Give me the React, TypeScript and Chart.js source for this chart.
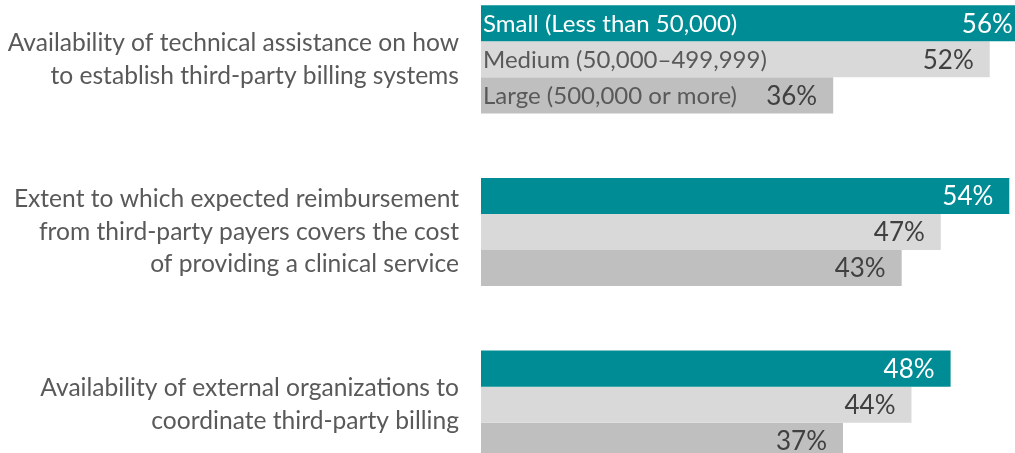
import React, { useEffect, useRef } from "react";
import { Chart, registerables } from "chart.js";

Chart.register(...registerables);

const categories: string[][] = [
  ["Availability of technical assistance on how", "to establish third-party billing systems"],
  ["Extent to which expected reimbursement", "from third-party payers covers the cost", "of providing a clinical service"],
  ["Availability of external organizations to", "coordinate third-party billing"],
];
const seriesNames = ["Small (Less than 50,000)", "Medium (50,000–499,999)", "Large (500,000 or more)"];
const smallValues = [56, 54, 48];
const mediumValues = [52, 47, 44];
const largeValues = [36, 43, 37];

const seriesColors = ["#008C95", "#D9D9D9", "#BFBFBF"];
const valueTextColors = ["#FFFFFF", "#404040", "#404040"];
const nameTextColors = ["#FFFFFF", "#595959", "#595959"];
const FONT = "Lato, 'Open Sans', sans-serif";

const labelPlugin = {
  id: "barLabels",
  afterDatasetsDraw(chart: any) {
    const ctx = chart.ctx;
    ctx.save();
    chart.data.datasets.forEach((ds: any, di: number) => {
      const meta = chart.getDatasetMeta(di);
      meta.data.forEach((bar: any, i: number) => {
        const v = ds.data[i];
        ctx.font = `26px ${FONT}`;
        ctx.fillStyle = valueTextColors[di];
        ctx.textAlign = "right";
        ctx.textBaseline = "middle";
        ctx.fillText(`${v}%`, bar.x - 16, bar.y + 1);
        if (i === 0) {
          ctx.font = `24px ${FONT}`;
          ctx.fillStyle = nameTextColors[di];
          ctx.textAlign = "left";
          ctx.fillText(ds.label, chart.chartArea.left + 2, bar.y + 1);
        }
      });
    });
    ctx.restore();
  },
};

export default function App() {
  const ref = useRef<HTMLCanvasElement>(null);
  useEffect(() => {
    if (!ref.current) return;
    const values = [smallValues, mediumValues, largeValues];
    const chart = new Chart(ref.current, {
      type: "bar",
      data: {
        labels: categories,
        datasets: seriesNames.map((name, i) => ({
          label: name,
          data: values[i],
          backgroundColor: seriesColors[i],
          borderWidth: 0,
          categoryPercentage: 0.626,
          barPercentage: 1,
        })),
      },
      options: {
        indexAxis: "y",
        responsive: false,
        animation: false,
        layout: { padding: 0 },
        plugins: { legend: { display: false }, tooltip: { enabled: false } },
        scales: {
          x: { display: false, min: 0, max: 60 },
          y: {
            grid: { display: false, drawTicks: false },
            border: { display: false },
            ticks: {
              padding: 22,
              color: "#595959",
              font: { family: FONT, size: 24.6, lineHeight: 1.32 },
            },
            afterFit(scale: any) {
              scale.width = 481;
              scale.paddingTop = 0;
              scale.paddingBottom = 0;
            },
          },
        },
      },
      plugins: [labelPlugin],
    });
    return () => chart.destroy();
  }, []);
  return (
    <div style={{ position: "fixed", left: 0, top: 0, width: 1015, height: 453, overflow: "hidden", background: "#fff" }}>
      <canvas ref={ref} width={1068} height={518} style={{ position: "absolute", left: 0, top: -27 }} />
    </div>
  );
}
